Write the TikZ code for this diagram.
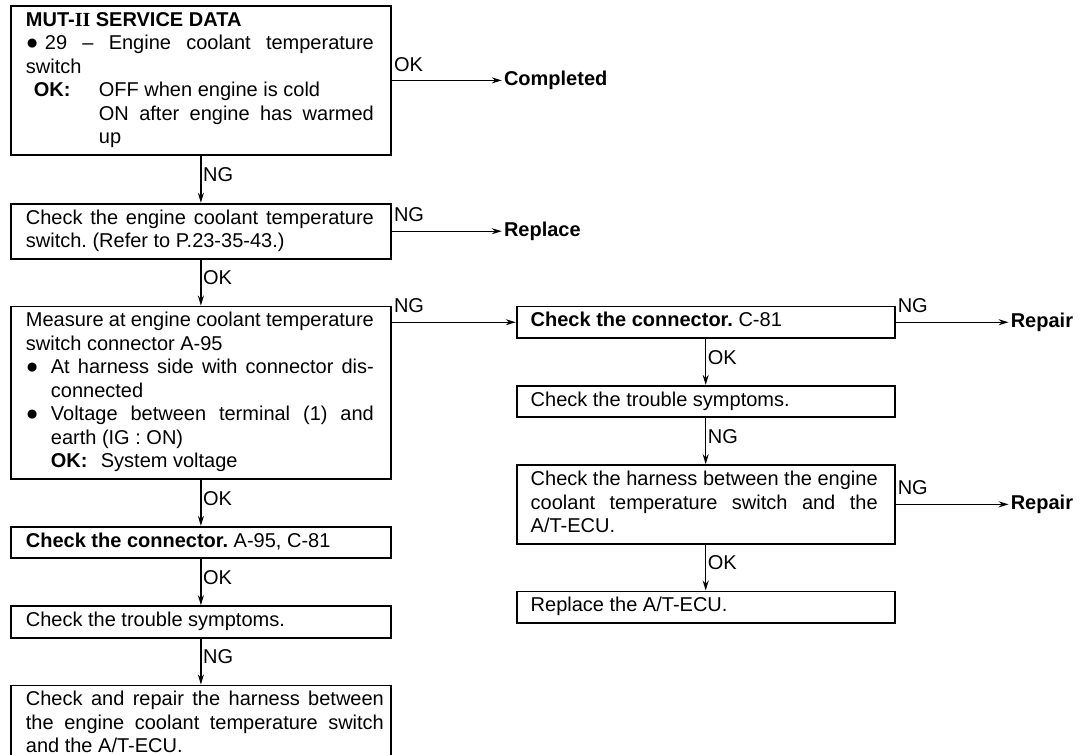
\documentclass[tikz,border=0pt]{standalone}
\usepackage{fontspec}
\setmainfont{Liberation Sans}
\newfontfamily\romanii{Liberation Serif}
\usetikzlibrary{arrows.meta,positioning}
\newcommand{\boxfont}{\fontsize{20}{23.5}\selectfont}
\newcommand{\bul}{\scalebox{1.05}{●}}
\tikzset{
  box/.style={draw, rectangle, line width=1.8pt, align=left, text width=350pt, inner xsep=15pt, inner ysep=4pt, font=\boxfont, execute at begin node={\spaceskip=0pt\xspaceskip=0pt\frenchspacing\strut}, execute at end node=\strut},
  rbox/.style={box, inner xsep=14pt},
  arr/.style={-{Stealth[length=10pt,width=6pt]}, line width=1.4pt},
  lbl/.style={font=\boxfont, inner sep=1.5pt},
  res/.style={font=\boxfont\bfseries, inner sep=2pt},
}

\begin{document}
\begin{tikzpicture}[node distance=46pt]
\useasboundingbox (0,0) rectangle (1080pt,-755pt);
% main column
\node[box, anchor=north west] (mut) at (10pt,-5pt) {{\bfseries MUT-{\romanii II} SERVICE DATA}\\
\makebox[19pt][l]{\bul}\makebox[329pt][s]{29 -- Engine coolant temperature}\\
switch\\
\hspace*{8pt}\makebox[65pt][l]{\bfseries OK:}OFF when engine is cold\\
\hspace*{73pt}\makebox[275pt][s]{ON after engine has warmed}\\
\hspace*{73pt}up};
\node[box, below=47pt of mut] (sw) {\makebox[348pt][s]{Check the engine coolant temperature}\\
switch. (Refer to P.23-35-43.)};
\node[box, below=of sw] (meas) {\makebox[348pt][s]{Measure at engine coolant temperature}\\
switch connector A-95\\
\makebox[25pt][l]{\bul}\makebox[323pt][s]{At harness side with connector dis-}\\
\hspace*{25pt}connected\\
\makebox[25pt][l]{\bul}\makebox[323pt][s]{Voltage between terminal (1) and}\\
\hspace*{25pt}earth (IG : ON)\\
\hspace*{25pt}\makebox[50pt][l]{\bfseries OK:}System voltage};
\node[box, below=of meas] (conn) {\textbf{Check the connector.} A-95, C-81};
\node[box, below=of conn] (sym) {Check the trouble symptoms.};
\node[box, below=of sym] (harn) {\makebox[358pt][s]{Check and repair the harness between}\\
\makebox[358pt][s]{the engine coolant temperature switch}\\
and the A/T-ECU.};
% right column
\node[rbox, right=124pt of meas.north east, anchor=north west] (cc) {\textbf{Check the connector.} C-81};
\node[rbox, below=of cc] (csym) {Check the trouble symptoms.};
\node[rbox, below=of csym] (charn) {\makebox[347pt][s]{Check the harness between the engine}\\
\makebox[347pt][s]{coolant temperature switch and the}\\
A/T-ECU.};
\node[rbox, below=of charn] (ecu) {Replace the A/T-ECU.};
% results
\node[res, right=110pt of mut] (done) {Completed};
\node[res, right=110pt of sw] (repl) {Replace};
\node[res, right=113pt of cc] (rep1) {Repair};
\node[res, right=113pt of charn] (rep2) {Repair};
% connectors
\draw[arr] (mut) -- node[lbl, right, pos=0.4] {NG} (sw);
\draw[arr] (sw) -- node[lbl, right, pos=0.4] {OK} (meas);
\draw[arr] (meas) -- node[lbl, right, pos=0.4] {OK} (conn);
\draw[arr] (conn) -- node[lbl, right, pos=0.4] {OK} (sym);
\draw[arr] (sym) -- node[lbl, right, pos=0.4] {NG} (harn);
\draw[arr] (cc) -- node[lbl, right, pos=0.4] {OK} (csym);
\draw[arr] (csym) -- node[lbl, right, pos=0.4] {NG} (charn);
\draw[arr] (charn) -- node[lbl, right, pos=0.4] {OK} (ecu);
\draw[arr] (mut) -- node[lbl, above right, pos=0, yshift=7pt] {OK} (done);
\draw[arr] (sw) -- node[lbl, above right, pos=0, yshift=7pt] {NG} (repl);
\draw[arr] (cc.west -| meas.east) -- node[lbl, above right, pos=0, yshift=7pt] {NG} (cc.west);
\draw[arr] (cc) -- node[lbl, above right, pos=0, yshift=7pt] {NG} (rep1);
\draw[arr] (charn) -- node[lbl, above right, pos=0, yshift=7pt] {NG} (rep2);
\end{tikzpicture}
\end{document}
